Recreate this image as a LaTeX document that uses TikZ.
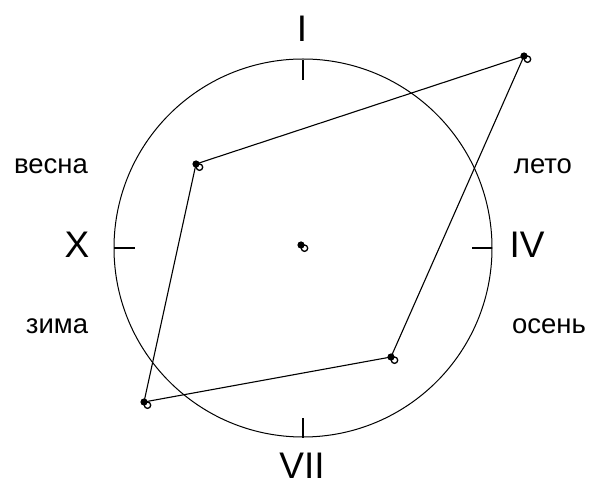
\documentclass[tikz,border=0pt]{standalone}
\usepackage{fontspec}
\setmainfont{Liberation Sans}
\begin{document}
\begin{tikzpicture}[x=1pt,y=1pt,
  roman/.style={font=\fontsize{37}{40}\selectfont, inner sep=0pt},
  season/.style={font=\fontsize{27.5}{30}\selectfont, inner sep=0pt},
  tick/.style={line width=1.4pt},
  edge/.style={line width=1.1pt}]
\useasboundingbox (0,0) rectangle (595,482);
\coordinate (O) at (303,234);
\draw[line width=1pt] (O) circle (189);
% ticks
\coordinate (Tt) at (303,422); \coordinate (Tt2) at (303,402);
\coordinate (Tb) at (303,44); \coordinate (Tb2) at (303,64);
\coordinate (Tl) at (114,234); \coordinate (Tl2) at (135,234);
\coordinate (Tr) at (492,234); \coordinate (Tr2) at (472,234);
\draw[tick] (Tt) -- (Tt2);
\draw[tick] (Tb) -- (Tb2);
\draw[tick] (Tl) -- (Tl2);
\draw[tick] (Tr) -- (Tr2);
% labels
\node[roman] (I) at (302,453) {I};
\node[roman] (X) at (77,237) {X};
\node[roman] (IV) at (527,237) {IV};
\node[roman] (VII) at (302,16) {VII};
\node[season] (vesna) at (51,316) {весна};
\node[season] (zima) at (57,156) {зима};
\node[season] (leto) at (543,316) {лето};
\node[season] (osen) at (549,156) {осень};
% points
\coordinate (P1) at (196,318);
\coordinate (P2) at (524,426);
\coordinate (P3) at (391,125);
\coordinate (P4) at (144,80);
\coordinate (C) at (301,237);
\draw[edge] (P1) -- (P2) -- (P3) -- (P4) -- cycle;
\foreach \p in {P1,P2,P3,P4,C}{
  \fill (\p) circle (3.6);
  \draw[line width=1.3pt] ([shift={(3.5,-3.2)}]\p) circle (3.2);
}
\end{tikzpicture}
\end{document}
